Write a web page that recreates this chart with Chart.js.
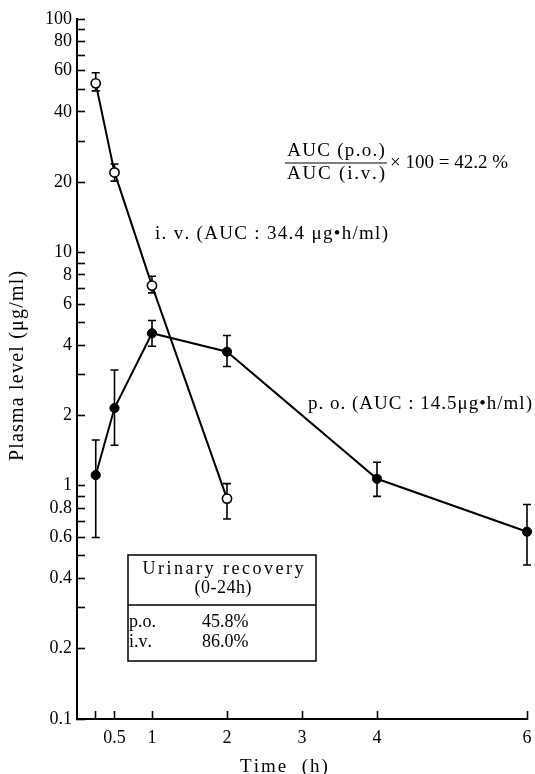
<!DOCTYPE html>
<html>
<head>
<meta charset="utf-8">
<script src="https://cdn.jsdelivr.net/npm/chart.js@4.4.1/dist/chart.umd.min.js"></script>
<style>
html,body{margin:0;padding:0;background:#fff;}
</style>
</head>
<body>
<canvas id="pkChart" width="535" height="774"></canvas>
<script>

// DATA

const ivTimes=[0.25,0.5,1,2];
const ivMean=[53,22,7.2,0.88];
const ivUpper=[58.8,23.9,7.9,1.02];
const ivLower=[49.2,20.2,6.7,0.72];

const poTimes=[0.25,0.5,1,2,4,6];
const poMean=[1.11,2.15,4.5,3.75,1.07,0.635];
const poUpper=[1.57,3.13,5.1,4.4,1.26,0.83];
const poLower=[0.6,1.49,3.96,3.24,0.9,0.457];

const xTicks=[0.25,0.5,1,2,3,4,6];
const xLabels=["","0.5","1","2","3","4","6"];

const yTicks=[0.1,0.2,0.3,0.4,0.5,0.6,0.7,0.8,0.9,1,2,3,4,5,6,7,8,9,10,20,30,40,50,60,70,80,90,100];
const yLabeled=[0.1,0.2,0.4,0.6,0.8,1,2,4,6,8,10,20,40,60,80,100];


// ERROR BARS (drawn under the markers)

function drawBars(chart,times,upper,lower){
const x=chart.scales.x;
const y=chart.scales.y;
const c=chart.ctx;
for(let i=0;i<times.length;i++){
const px=x.getPixelForValue(times[i]);
const top=y.getPixelForValue(upper[i]);
const bot=y.getPixelForValue(lower[i]);
c.beginPath();
c.moveTo(px,top);c.lineTo(px,bot);
c.moveTo(px-4,top);c.lineTo(px+4,top);
c.moveTo(px-4,bot);c.lineTo(px+4,bot);
c.stroke();
}
}

const errorBars={
id:"errorBars",
beforeDatasetsDraw(chart){
const c=chart.ctx;
c.save();
c.strokeStyle="#000";
c.lineWidth=1.6;
drawBars(chart,ivTimes,ivUpper,ivLower);
drawBars(chart,poTimes,poUpper,poLower);
c.restore();
}
};


// TEXT NOTES AND RECOVERY BOX

// letter-spaced text, drawn char by char (align: left / center)
function put(c,txt,x,y,size,spacing,align){
c.font=size+"px 'Liberation Serif', serif";
c.textAlign="left";
const chars=[...txt];
let w=0;
chars.forEach(ch=>{w+=c.measureText(ch).width;});
w+=spacing*(chars.length-1);
let cx=align==="center"?x-w/2:x;
chars.forEach(ch=>{
c.fillText(ch,cx,y);
cx+=c.measureText(ch).width+spacing;
});
}

const notes={
id:"notes",
afterDraw(chart){
const c=chart.ctx;
c.save();
c.fillStyle="#000";
c.strokeStyle="#000";
c.textBaseline="middle";

// bioavailability fraction
put(c,"AUC (p.o.)",336,151,19,1.3,"center");
put(c,"AUC (i.v.)",336,174,19,1.8,"center");
c.lineWidth=1;
c.beginPath();c.moveTo(285,163);c.lineTo(387,163);c.stroke();
put(c,"\u00d7 100 = 42.2 %",390,163,19,0,"left");

// series labels
put(c,"i. v. (AUC : 34.4 \u03bcg\u2022h/ml)",155,234,19,1.3,"left");
put(c,"p. o. (AUC : 14.5\u03bcg\u2022h/ml)",308,404,19,1,"left");

// axis titles
put(c,"Time  (h)",284,767,19,2,"center");
c.save();
c.translate(18,366);
c.rotate(-Math.PI/2);
put(c,"Plasma level (\u03bcg/ml)",0,0,20,1.2,"center");
c.restore();

// urinary recovery box
c.lineWidth=1.5;
c.strokeRect(128,555,188,106);
c.beginPath();c.moveTo(128,605);c.lineTo(316,605);c.stroke();
put(c,"Urinary recovery",223,569,18,2.5,"center");
put(c,"(0-24h)",223,588,18,0.5,"center");
put(c,"p.o.",129,622,18,0,"left");
put(c,"45.8%",202,622,18,0,"left");
put(c,"i.v.",129,642,18,0,"left");
put(c,"86.0%",202,642,18,0,"left");
c.restore();
}
};


// CHART

Chart.defaults.font.family="'Liberation Serif', 'Times New Roman', serif";
Chart.defaults.font.size=18;
Chart.defaults.color="#000";

const ctx=document.getElementById("pkChart").getContext("2d");

const pkChart=new Chart(ctx,{
type:"scatter",
data:{
datasets:[
{
label:"i.v.",
data:ivTimes.map((t,i)=>({x:t,y:ivMean[i]})),
showLine:true,
borderColor:"#000",
borderWidth:2,
pointRadius:4.6,
pointBackgroundColor:"#fff",
pointBorderColor:"#000",
pointBorderWidth:1.6,
clip:false
},
{
label:"p.o.",
data:poTimes.map((t,i)=>({x:t,y:poMean[i]})),
showLine:true,
borderColor:"#000",
borderWidth:2,
pointRadius:4.6,
pointBackgroundColor:"#000",
pointBorderColor:"#000",
pointBorderWidth:1,
clip:false
}
]
},
options:{
responsive:false,
animation:false,
devicePixelRatio:1,
layout:{padding:{top:19,right:8,left:0,bottom:0}},
plugins:{legend:{display:false},tooltip:{enabled:false}},
scales:{
x:{
type:"linear",
min:0,
max:6,
afterBuildTicks:(s)=>{s.ticks=xTicks.map(v=>({value:v}));},
afterFit:(s)=>{s.height=55;s.paddingLeft=0;s.paddingRight=0;},
ticks:{
autoSkip:false,
maxRotation:0,
padding:16,
callback:(v)=>xLabels[xTicks.indexOf(v)]
},
grid:{drawOnChartArea:false,drawTicks:true,tickLength:-8,tickColor:"#000",tickWidth:1.6},
border:{display:true,color:"#000",width:2}
},
y:{
type:"logarithmic",
min:0.1,
max:100,
afterBuildTicks:(s)=>{s.ticks=yTicks.map(v=>({value:v}));},
afterFit:(s)=>{s.width=77;s.paddingTop=0;s.paddingBottom=0;},
ticks:{
autoSkip:false,
padding:13,
callback:(v)=>yLabeled.includes(v)?String(v):""
},
grid:{drawOnChartArea:false,drawTicks:true,tickLength:-8,tickColor:"#000",tickWidth:1.6},
border:{display:true,color:"#000",width:2}
}
}
},
plugins:[errorBars,notes]
});

</script>
</body>
</html>
